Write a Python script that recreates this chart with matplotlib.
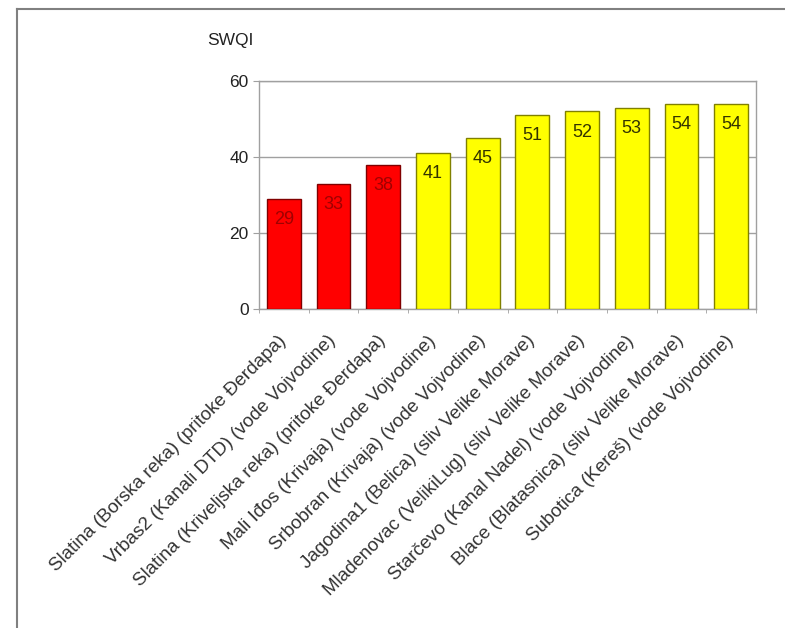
import matplotlib.pyplot as plt
import numpy as np

# SWQI values per monitoring station
stations = [
    "Slatina (Borska reka) (pritoke Đerdapa)",
    "Vrbas2 (Kanali DTD) (vode Vojvodine)",
    "Slatina (Kriveljska reka) (pritoke Đerdapa)",
    "Mali Iđos (Krivaja) (vode Vojvodine)",
    "Srbobran (Krivaja) (vode Vojvodine)",
    "Jagodina1 (Belica) (sliv Velike Morave)",
    "Mladenovac (VelikiLug) (sliv Velike Morave)",
    "Starčevo (Kanal Nadel) (vode Vojvodine)",
    "Blace (Blatasnica) (sliv Velike Morave)",
    "Subotica (Kereš) (vode Vojvodine)",
]
swqi = [29, 33, 38, 41, 45, 51, 52, 53, 54, 54]
bar_colors = ["#ff0000"] * 3 + ["#ffff00"] * 7
edge_colors = ["#800000"] * 3 + ["#808000"] * 7
text_colors = ["#a00000"] * 3 + ["#333300"] * 7

plt.rcParams['font.family'] = ['Liberation Sans', 'DejaVu Sans']

fig = plt.figure(figsize=(7.85, 6.28), dpi=100)
W, H = 785, 628
ax = fig.add_axes([259 / W, 1 - 309 / H, (756 - 259) / W, (309 - 81) / H])

x = np.arange(len(swqi))
ax.bar(x, swqi, width=0.68, color=bar_colors, edgecolor=edge_colors, linewidth=1, zorder=3)
for xi, v, tc in zip(x, swqi, text_colors):
    ax.text(xi, v - 3.2, str(v), ha='center', va='top', fontsize=13, color=tc, zorder=4)

ax.set_xlim(-0.5, len(swqi) - 0.5)
ax.set_ylim(0, 60)
ax.set_yticks([0, 20, 40, 60])
ax.yaxis.grid(True, color='#a0a0a0', linewidth=1, zorder=0)
ax.tick_params(axis='y', labelsize=12.5, length=4, color='#a0a0a0', labelcolor='#222222')

ax.set_xticks(x)
ax.set_xticklabels(stations, rotation=45, ha='right', va='center', rotation_mode='anchor',
                   fontsize=13.5, color='#333333')
ax.set_xticks(np.arange(len(swqi) + 1) - 0.5, minor=True)
ax.tick_params(axis='x', which='major', length=0, pad=21)
ax.tick_params(axis='x', which='minor', length=3, color='#a0a0a0')

for side in ['left', 'bottom', 'right', 'top']:
    ax.spines[side].set_color('#a0a0a0')
    ax.spines[side].set_linewidth(1)

fig.text(207 / W, 1 - 41 / H, "SWQI", fontsize=12.5, color='#222222', va='center', ha='left')

# outer frame lines (top and left)
fig.add_artist(plt.Line2D([17 / W, 1], [1 - 9 / H, 1 - 9 / H], color='#808080', linewidth=1.5, transform=fig.transFigure))
fig.add_artist(plt.Line2D([17 / W, 17 / W], [0, 1 - 9 / H], color='#808080', linewidth=1.5, transform=fig.transFigure))

fig.savefig("out.png", dpi=100)
